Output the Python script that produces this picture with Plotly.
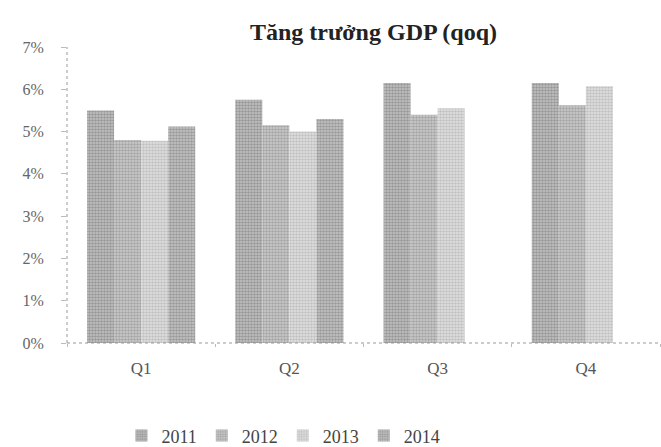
import plotly.graph_objects as go

quarters = ["Q1", "Q2", "Q3", "Q4"]
years = ["2011", "2012", "2013", "2014"]
growth_2011 = [5.5, 5.75, 6.15, 6.15]
growth_2012 = [4.8, 5.15, 5.4, 5.62]
growth_2013 = [4.78, 5.0, 5.55, 6.07]
growth_2014 = [5.12, 5.3, None, None]
series = [growth_2011, growth_2012, growth_2013, growth_2014]

# halftone-like fills: dot colour on a grey ground
fg_colors = ["#6e6e6e", "#7e7e7e", "#a2a2a2", "#707070"]
bg_colors = ["#c4c4c4", "#cdcdcd", "#e2e2e2", "#c6c6c6"]

serif = "Liberation Serif, Times New Roman, serif"

fig = go.Figure()
for name, vals, fg, bg in zip(years, series, fg_colors, bg_colors):
    fig.add_trace(go.Bar(
        x=quarters, y=vals, name=name,
        marker=dict(
            color=bg,
            line=dict(width=0),
            pattern=dict(shape=".", fgcolor=fg, bgcolor=bg, size=3, solidity=0.55),
        ),
    ))

fig.update_layout(
    width=661, height=447,
    margin=dict(l=67, r=1, t=47, b=104, autoexpand=False),
    paper_bgcolor="white", plot_bgcolor="white",
    barmode="group", bargap=0.27, bargroupgap=0,
    title=dict(text="<b>Tăng trưởng GDP (qoq)</b>", x=0.565, xanchor="center",
               y=0.93, yanchor="middle",
               font=dict(family=serif, size=24, color="#222")),
    font=dict(family=serif, color="#555"),
    showlegend=True,
    legend=dict(orientation="h", x=0.365, xanchor="center",
                yref="container", y=0.025, yanchor="middle",
                font=dict(family=serif, size=18, color="#444"),
                itemwidth=30, itemsizing="constant", tracegroupgap=0),
    xaxis=dict(showgrid=False, showline=False, ticks="outside", tickson="boundaries",
               ticklen=3, tickcolor="#bbb", tickfont=dict(size=17, color="#555"),
               ticklabelstandoff=13),
    yaxis=dict(range=[0, 7], showgrid=False, showline=False, zeroline=False,
               ticks="outside", ticklen=5, tickcolor="#bbb",
               tickfont=dict(size=16, color="#666"), ticklabelstandoff=14,
               tickvals=[0, 1, 2, 3, 4, 5, 6, 7],
               ticktext=[f"{v}%" for v in range(8)]),
)

# dotted axis lines
fig.add_shape(type="line", xref="paper", yref="paper", x0=0, x1=0, y0=0, y1=1,
              line=dict(color="#999", width=1, dash="dot"))
fig.add_shape(type="line", xref="paper", yref="paper", x0=0, x1=1, y0=0, y1=0,
              line=dict(color="#999", width=1, dash="dot"))

fig.write_html("out.html")
